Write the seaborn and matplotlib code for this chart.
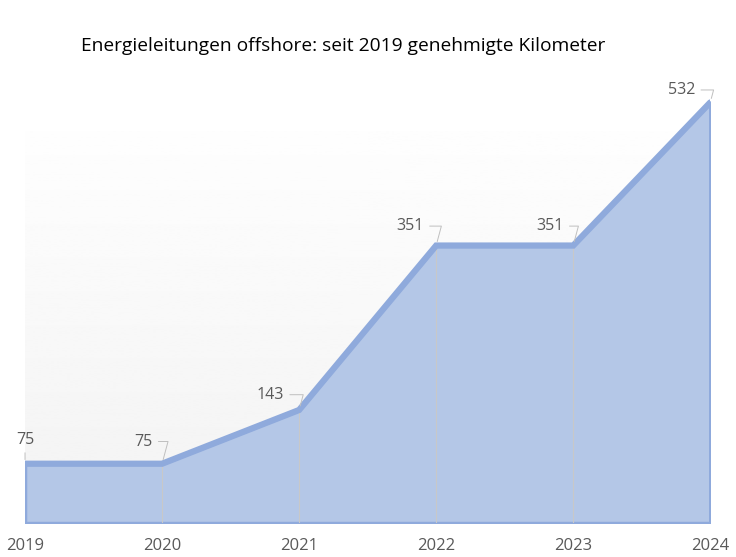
import numpy as np
import pandas as pd
import seaborn as sns
import matplotlib.pyplot as plt

years = [2019, 2020, 2021, 2022, 2023, 2024]
km = [75, 75, 143, 351, 351, 532]
title = 'Energieleitungen offshore: seit 2019 genehmigte Kilometer'

# label offsets (points) for the leader-line labels, 2020..2024
label_offsets = [(-7, 16), (-11, 11), (-9, 14), (-7, 14), (-11, 9)]

FILL = '#b4c7e7'
LINE = '#8faadc'
TEXT = '#595959'

sns.set_style('white')
plt.rcParams['font.family'] = ['Open Sans', 'DejaVu Sans']

df = pd.DataFrame({'Jahr': years, 'km': km})

fig = plt.figure(figsize=(7.36, 5.57), dpi=100)
ax = fig.add_axes([0.034, 0.061, 0.931, 0.87])
ax.set_xlim(2019, 2024)
ax.set_ylim(0, 613)

# faint gradient background in the plot area
grad = np.linspace(0.950, 0.995, 256).reshape(-1, 1)
ax.imshow(grad, extent=[2019, 2024, 0, 495], origin='lower', aspect='auto',
          cmap='gray', vmin=0, vmax=1, zorder=0)

ax.fill_between(df['Jahr'], 0, df['km'], facecolor=FILL, edgecolor=LINE,
                linewidth=2.5, zorder=1)
ax.vlines(years[1:-1], 0, km[1:-1], color='#c8c8c8', lw=0.8, zorder=2)
sns.lineplot(data=df, x='Jahr', y='km', ax=ax, color=LINE, lw=4.5, zorder=3,
             solid_joinstyle='miter')

# data labels with leader lines
ax.annotate(str(km[0]), xy=(years[0], km[0]), xytext=(0, 17),
            textcoords='offset points', fontsize=11.5, color=TEXT,
            ha='center', va='center',
            arrowprops=dict(arrowstyle='-', color='#bfbfbf', lw=0.7,
                            shrinkA=1, shrinkB=3))
for x, y, off in zip(years[1:], km[1:], label_offsets):
    ax.annotate(str(y), xy=(x, y), xytext=off,
                textcoords='offset points', fontsize=11.5, color=TEXT,
                ha='right', va='center',
                arrowprops=dict(arrowstyle='-', color='#bfbfbf', lw=0.7,
                                shrinkA=2, shrinkB=3,
                                connectionstyle='angle,angleA=0,angleB=75,rad=0'))

ax.set_xticks(years)
ax.set_xticklabels([str(y) for y in years], fontsize=12, color=TEXT)
ax.tick_params(axis='x', length=0, pad=11)
ax.set_yticks([])
ax.set_xlabel('')
ax.set_ylabel('')
for s in ax.spines.values():
    s.set_visible(False)

fig.text(0.466, 0.918, title, ha='center', va='center', fontsize=13.8, color='black')

fig.savefig('out.png', dpi=100)
